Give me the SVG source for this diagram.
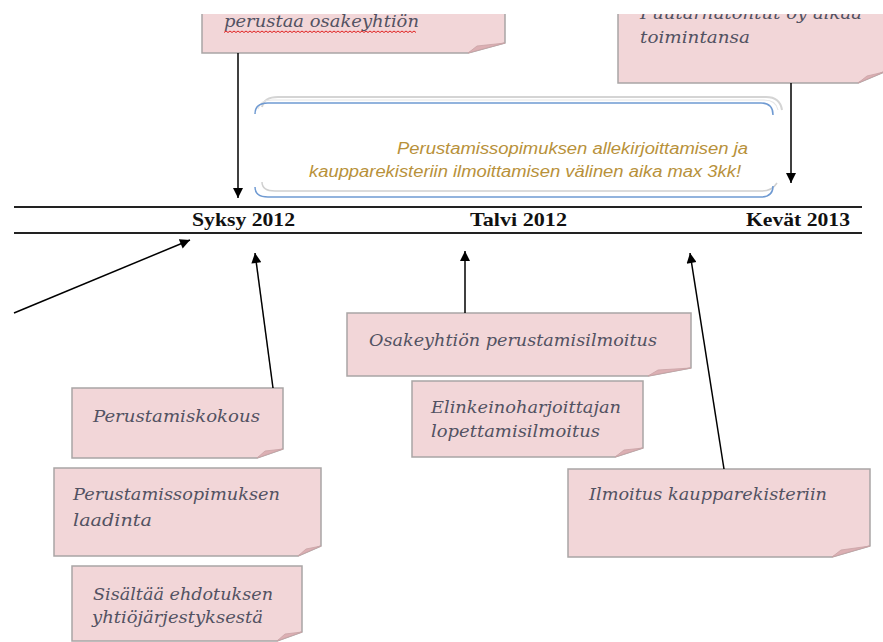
<svg xmlns="http://www.w3.org/2000/svg" width="883" height="642" viewBox="0 0 883 642">
<defs>
<style>
.note{fill:#f2d6d8;stroke:#a9a5a5;stroke-width:1.5}
.fold{fill:#dcafb3;stroke:#c9a3a6;stroke-width:0.8}
.nt{font-family:"DejaVu Serif",serif;font-style:italic;font-size:17.5px;fill:#525262}
.tl{font-family:"Liberation Serif",serif;font-weight:bold;font-size:19px;fill:#111}
.bt{font-family:"Liberation Sans",sans-serif;font-style:italic;font-size:16px;fill:#b8913a}
.conn line{stroke:#000;stroke-width:1.5;marker-end:url(#ah)}
.axis{stroke:#222;stroke-width:2}
</style>
<marker id="ah" viewBox="0 0 10 10" refX="10" refY="5" markerWidth="11" markerHeight="10" markerUnits="userSpaceOnUse" orient="auto">
<path d="M0,0 L10,5 L0,10 Z" fill="#000"/>
</marker>
</defs>
<rect width="883" height="642" fill="#fff"/>

<g id="timeline">
<line class="axis" x1="14" y1="207" x2="862" y2="207"/>
<line class="axis" x1="14" y1="233" x2="862" y2="233"/>
<text class="tl" x="192" y="226" textLength="103" lengthAdjust="spacingAndGlyphs">Syksy 2012</text>
<text class="tl" x="470" y="226" textLength="97" lengthAdjust="spacingAndGlyphs">Talvi 2012</text>
<text class="tl" x="746" y="226" textLength="104" lengthAdjust="spacingAndGlyphs">Kevät 2013</text>
</g>

<g id="note-range">
<path d="M262,107 Q264,97 278,97 L766,97 Q780,97 782,110" fill="none" stroke="#d4d4d4" stroke-width="2"/>
<path d="M258,109 Q260,100 272,100 L764,100 Q776,100 778,110" fill="none" stroke="#e6e6e6" stroke-width="1.2"/>
<path d="M255,114 Q255,103 268,103 L761,103 Q773,103 773,115" fill="none" stroke="#6f9ad2" stroke-width="1.5"/>
<path d="M262,182 Q262,191 275,191 L762,191 Q772,191 777,183" fill="none" stroke="#d0d0d0" stroke-width="1.5"/>
<path d="M255,187 Q255,197 268,197 L761,197 Q773,197 773,186" fill="none" stroke="#6f9ad2" stroke-width="1.5"/>
<text class="bt" x="748" y="154" text-anchor="end" textLength="351" lengthAdjust="spacingAndGlyphs">Perustamissopimuksen allekirjoittamisen ja</text>
<text class="bt" x="741" y="177" text-anchor="end" textLength="432" lengthAdjust="spacingAndGlyphs">kaupparekisteriin ilmoittamisen välinen aika max  3kk!</text>
</g>

<g id="n-perustaa">
<path class="note" d="M202,-10 H505 V43 L468,53 H202 Z"/>
<path class="fold" d="M468,53 L477,46 L505,43 Z"/>
<text class="nt" x="224" y="27" textLength="195" lengthAdjust="spacingAndGlyphs">perustaa osakeyhtiön</text>
<path d="M224,32.5 l2,-1.5 l2,1.5 l2,-1.5 l2,1.5 l2,-1.5 l2,1.5 l2,-1.5 l2,1.5 l2,-1.5 l2,1.5 l2,-1.5 l2,1.5 l2,-1.5 l2,1.5 l2,-1.5 l2,1.5 l2,-1.5 l2,1.5 l2,-1.5 l2,1.5 l2,-1.5 l2,1.5 l2,-1.5 l2,1.5
l2,-1.5 l2,1.5 l2,-1.5 l2,1.5 l2,-1.5 l2,1.5 l2,-1.5 l2,1.5 l2,-1.5 l2,1.5 l2,-1.5 l2,1.5 l2,-1.5 l2,1.5 l2,-1.5 l2,1.5 l2,-1.5 l2,1.5 l2,-1.5 l2,1.5 l2,-1.5 l2,1.5 l2,-1.5 l2,1.5
l2,-1.5 l2,1.5 l2,-1.5 l2,1.5 l2,-1.5 l2,1.5 l2,-1.5 l2,1.5 l2,-1.5 l2,1.5 l2,-1.5 l2,1.5 l2,-1.5 l2,1.5 l2,-1.5 l2,1.5 l2,-1.5 l2,1.5 l2,-1.5 l2,1.5 l2,-1.5 l2,1.5 l2,-1.5 l2,1.5
l2,-1.5 l2,1.5 l2,-1.5 l2,1.5 l2,-1.5 l2,1.5 l2,-1.5 l2,1.5 l2,-1.5 l2,1.5 l2,-1.5 l2,1.5 l2,-1.5 l2,1.5 l2,-1.5 l2,1.5 l2,-1.5 l2,1.5 l2,-1.5 l2,1.5 l2,-1.5 l2,1.5 l2,-1.5 l2,1.5" fill="none" stroke="#e02020" stroke-width="1"/>
</g>

<g id="n-puutarha">
<path class="note" d="M618,-10 H884 V72 L858,83 H618 Z"/>
<path class="fold" d="M858,83 L867,76 L884,72 Z"/>
<text class="nt" x="640" y="19" textLength="222" lengthAdjust="spacingAndGlyphs">Puutarhatontut oy alkaa</text>
<text class="nt" x="640" y="43" textLength="110" lengthAdjust="spacingAndGlyphs">toimintansa</text>
</g>

<rect x="0" y="0" width="883" height="14" fill="#fff"/>

<g id="n-osakeyhtio">
<path class="note" d="M347,313 H691 V368 L648,376 H347 Z"/>
<path class="fold" d="M648,376 L658,370 L691,368 Z"/>
<text class="nt" x="369" y="346" textLength="288" lengthAdjust="spacingAndGlyphs">Osakeyhtiön perustamisilmoitus</text>
</g>

<g id="n-elinkeino">
<path class="note" d="M412,381 H643 V448 L615,457 H412 Z"/>
<path class="fold" d="M615,457 L624,450 L643,448 Z"/>
<text class="nt" x="431" y="413" textLength="190" lengthAdjust="spacingAndGlyphs">Elinkeinoharjoittajan</text>
<text class="nt" x="431" y="437" textLength="169" lengthAdjust="spacingAndGlyphs">lopettamisilmoitus</text>
</g>

<g id="n-kokous">
<path class="note" d="M72,388 H283 V449 L257,458 H72 Z"/>
<path class="fold" d="M257,458 L265,451 L283,449 Z"/>
<text class="nt" x="93" y="422" textLength="167" lengthAdjust="spacingAndGlyphs">Perustamiskokous</text>
</g>

<g id="n-laadinta">
<path class="note" d="M54,468 H321 V546 L298,556 H54 Z"/>
<path class="fold" d="M298,556 L306,549 L321,546 Z"/>
<text class="nt" x="73" y="500" textLength="207" lengthAdjust="spacingAndGlyphs">Perustamissopimuksen</text>
<text class="nt" x="73" y="526" textLength="79" lengthAdjust="spacingAndGlyphs">laadinta</text>
</g>

<g id="n-sisaltaa">
<path class="note" d="M72,566 H302 V632 L277,641 H72 Z"/>
<path class="fold" d="M277,641 L285,634 L302,632 Z"/>
<text class="nt" x="93" y="600" textLength="180" lengthAdjust="spacingAndGlyphs">Sisältää ehdotuksen</text>
<text class="nt" x="92" y="623" textLength="171" lengthAdjust="spacingAndGlyphs">yhtiöjärjestyksestä</text>
</g>

<g id="n-ilmoitus">
<path class="note" d="M568,469 H870 V546 L832,557 H568 Z"/>
<path class="fold" d="M832,557 L841,550 L870,546 Z"/>
<text class="nt" x="589" y="500" textLength="238" lengthAdjust="spacingAndGlyphs">Ilmoitus kaupparekisteriin</text>
</g>

<g id="connectors" class="conn">
<line x1="238" y1="53" x2="238" y2="198"/>
<line x1="791" y1="83" x2="791" y2="183"/>
<line x1="14" y1="313" x2="190" y2="240"/>
<line x1="273" y1="388" x2="255" y2="253"/>
<line x1="465" y1="313" x2="465" y2="251"/>
<line x1="724" y1="469" x2="690" y2="253"/>
</g>
</svg>
